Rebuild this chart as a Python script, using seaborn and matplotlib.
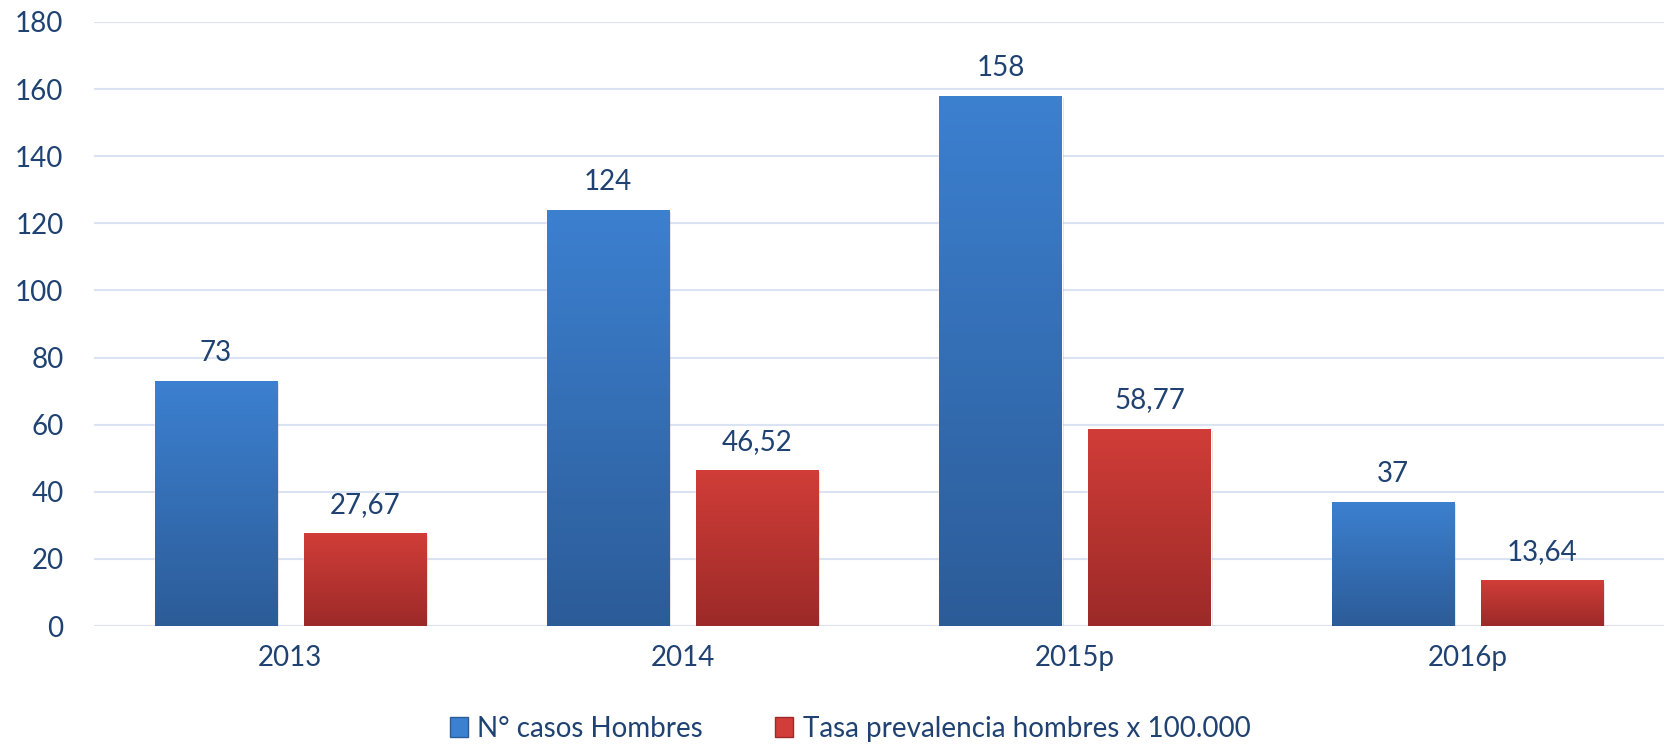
import numpy as np
import pandas as pd
import matplotlib
matplotlib.use("Agg")
import matplotlib.pyplot as plt
from matplotlib.colors import LinearSegmentedColormap
from matplotlib.patches import Patch
import seaborn as sns

# data
years = ["2013", "2014", "2015p", "2016p"]
casos = [73, 124, 158, 37]
tasa = [27.67, 46.52, 58.77, 13.64]
series_names = ["N° casos Hombres", "Tasa prevalencia hombres x 100.000"]

text_color = "#1F4272"
blue_top, blue_bot = "#3C80D0", "#2C5C98"
red_top, red_bot = "#D13D38", "#9C2A28"

df = pd.DataFrame({
    "Año": years * 2,
    "valor": casos + tasa,
    "serie": [series_names[0]] * len(years) + [series_names[1]] * len(years),
})

sns.set_style("white")
plt.rcParams["font.family"] = ["Lato", "DejaVu Sans"]

fig = plt.figure(figsize=(16.67, 7.45), dpi=100)
ax = fig.add_axes([0.0564, 0.1597, 0.9416, 0.8108])

sns.barplot(data=df, x="Año", y="valor", hue="serie", ax=ax,
            palette=[blue_bot, red_bot], width=0.76, gap=0.18,
            legend=False, saturation=1)
bar_groups = list(ax.containers)

ax.set_yticks(range(0, 181, 20))
ax.yaxis.grid(True, color="#D9E3F2", linewidth=1.5)
ax.set_axisbelow(True)
for s in ax.spines.values():
    s.set_visible(False)
ax.set_xlabel("")
ax.set_ylabel("")
ax.tick_params(axis="both", length=0, labelsize=20, labelcolor=text_color)
ax.tick_params(axis="x", pad=14)
ax.tick_params(axis="y", pad=22)

# gradient fill on each bar
cmaps = [LinearSegmentedColormap.from_list("b", [blue_bot, blue_top]),
         LinearSegmentedColormap.from_list("r", [red_bot, red_top])]
grad = np.linspace(0, 1, 256).reshape(-1, 1)
for i, cont in enumerate(bar_groups):
    for p in cont.patches:
        x = p.get_x()
        w, h = p.get_width(), p.get_height()
        # soft shadow
        ax.bar(x + w / 2 + 0.005, h, width=w, bottom=-0.7, color="#000000",
               alpha=0.12, zorder=2, linewidth=0)
        im = ax.imshow(grad, extent=[x, x + w, 0, h], origin="lower",
                       aspect="auto", cmap=cmaps[i], zorder=3,
                       vmin=0, vmax=1)
        im.set_clip_path(p)
        p.set_zorder(3)

ax.set_ylim(0, 180)
ax.set_xlim(-0.5, len(years) - 0.5)

labels = [[str(v) for v in casos],
          [f"{v:.2f}".replace(".", ",") for v in tasa]]
for cont, labs in zip(bar_groups, labels):
    ax.bar_label(cont, labels=labs, padding=11, fontsize=20, color=text_color)

handles = [Patch(facecolor=blue_top, edgecolor=blue_bot),
           Patch(facecolor=red_top, edgecolor=red_bot)]
fig.legend(handles, series_names, loc="center", bbox_to_anchor=(0.51, 0.022),
           ncol=2, frameon=False, fontsize=20, labelcolor=text_color,
           handlelength=0.65, handleheight=0.75, handletextpad=0.35,
           columnspacing=2.6)

fig.savefig("out.png", dpi=100)
